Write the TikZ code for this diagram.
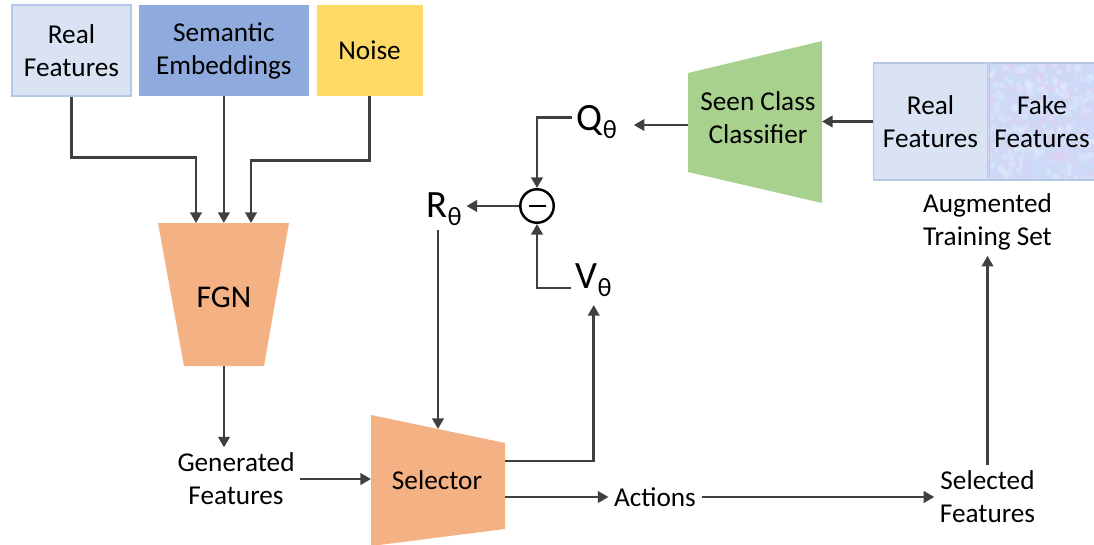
\documentclass[tikz,border=0pt]{standalone}
\usepackage{fontspec}
\setmainfont{Carlito}
\usepackage{xcolor}
\usepackage{tikz}
\usetikzlibrary{arrows.meta, positioning, calc}
\definecolor{realblue}{RGB}{218, 227, 243}
\definecolor{realedge}{RGB}{180, 199, 231}
\definecolor{semblue}{RGB}{143, 170, 220}
\definecolor{noiseyellow}{RGB}{255, 217, 102}
\definecolor{netorange}{RGB}{244, 177, 131}
\definecolor{clsgreen}{RGB}{169, 209, 142}
\definecolor{fakebase}{RGB}{204, 218, 247}
\definecolor{fakepink}{RGB}{228, 208, 243}
\definecolor{fakelight}{RGB}{224, 238, 252}
\definecolor{linegray}{RGB}{64, 64, 64}
\newcommand{\thsub}{\raisebox{-5pt}{\fontsize{15}{15}\selectfont θ}}
\tikzset{
    inbox/.style = {rectangle, minimum height=1.82cm, align=center, inner sep=0pt},
    setbox/.style = {rectangle, draw=realedge, line width=0.6pt, minimum height=2.34cm, align=center, inner sep=0pt},
    net/.style = {fill=netorange},
    plain/.style = {align=center, inner sep=3pt},
    sym/.style = {font=\fontsize{22}{22}\selectfont, anchor=base west, inner xsep=2.5pt, inner ysep=0pt, text depth=0pt},
    arrow/.style = {draw=linegray, line width=1.4pt, -{Triangle[length=6pt, width=6.5pt]}}
}

\begin{document}
\begin{tikzpicture}[x=0.02cm, y=-0.02cm, font=\fontsize{15.5}{18.7}\selectfont]
\useasboundingbox (0,0) rectangle (1094,544);

\node (realf) [inbox, fill=realblue, draw=realedge, line width=0.6pt, minimum width=2.38cm] at (71.5,50.5) {Real\\Features};
\node (semf) [inbox, fill=semblue, minimum width=3.4cm, right=0.14cm of realf] {Semantic\\Embeddings};
\node (noise) [inbox, fill=noiseyellow, minimum width=2.12cm, right=0.14cm of semf] {Noise};

\fill[net] (158,223) -- (289,223) -- (264,366) -- (184,366) -- cycle;
\node (fgn) [font=\fontsize{18}{18}\selectfont] at (224,297) {FGN};
\coordinate (fgnin1) at (196,223);
\coordinate (fgnin2) at (224,223);
\coordinate (fgnin3) at (251,223);
\coordinate (fgnout) at (224,366);

\node (gen) [plain] at (236,479) {Generated\\Features};

\fill[net] (371,415) -- (505,443) -- (505,529) -- (371,546) -- cycle;
\node (sel) at (437,480) {Selector};
\coordinate (selin) at (438,429);
\coordinate (selL) at (371,479);
\coordinate (selR1) at (505,461);
\coordinate (selR2) at (505,497);

\node (act) [plain] at (655,497) {Actions};
\node (selft) [plain] at (987.5,497) {Selected\\Features};

\fill[clsgreen] (688,73) -- (822,41) -- (822,203) -- (688,172) -- cycle;
\node (cls) [align=center] at (758,118) {Seen Class\\Classifier};
\coordinate (clsL) at (688,125);
\coordinate (clsR) at (822,121.5);

\node (realr) [setbox, fill=realblue, minimum width=2.3cm] at (930.5,121.5) {Real\\Features};
\begin{scope}
\clip (988,63) rectangle (1094,180);
\fill[fakebase] (988,63) rectangle (1094,180);
\pgfmathsetseed{11}
\foreach \i in {1,...,260}{
    \pgfmathsetmacro{\px}{988+106*rnd}
    \pgfmathsetmacro{\py}{63+117*rnd}
    \pgfmathsetmacro{\pr}{0.8+1.8*rnd}
    \fill[fakepink, opacity=0.35] (\px,\py) circle (\pr pt);
}
\foreach \i in {1,...,220}{
    \pgfmathsetmacro{\px}{988+106*rnd}
    \pgfmathsetmacro{\py}{63+117*rnd}
    \pgfmathsetmacro{\pr}{0.8+1.5*rnd}
    \fill[fakelight, opacity=0.4] (\px,\py) circle (\pr pt);
}
\end{scope}
\node (fake) [setbox, minimum width=2.12cm, right=0pt of realr] {Fake\\Features};
\node (aug) [plain] at (987.5,222) {Augmented\\Training Set};

\node (minus) [circle, draw, line width=1.4pt, minimum size=0.67cm, inner sep=0pt] at (537,206) {\rule[-0.7pt]{0.34cm}{1.4pt}};
\node (Q) [sym] at (572,130) {Q\thsub};
\node (R) [sym] at (422,217) {R\thsub};
\node (V) [sym] at (571,288) {V\thsub};

\draw [arrow] (realf.south) -- ++(0,61) -| (fgnin1);
\draw [arrow] (semf.south) -- (semf.south |- fgnin2);
\draw [arrow] (noise.south) -- ++(0,64) -| (fgnin3);
\draw [arrow] (fgnout) -- (fgnout |- gen.north);
\draw [arrow] (gen) -- (selL);
\draw [arrow, shorten >=9.5pt] (selR1) -| (V.south);
\draw [arrow] (selR2) -- (act);
\draw [arrow] (act) -- (selft);
\draw [arrow] (selft) -- (aug);
\draw [arrow] (realr.west) -- (clsR);
\draw [arrow, shorten >=7pt] (clsL) -- (clsL -| Q.east);
\draw [arrow] (Q.west) -| (minus.north);
\draw [arrow] (V.base west) -| (minus.south);
\draw [arrow] (minus.west) -- (minus.west -| R.east);
\draw [arrow, shorten <=7pt] (R.south -| selin) -- (selin);
\end{tikzpicture}
\end{document}
